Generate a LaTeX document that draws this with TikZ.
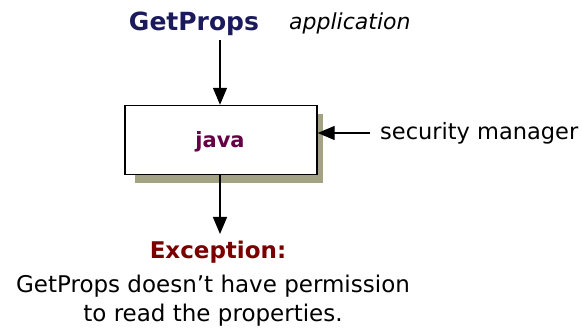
\documentclass[tikz,border=0pt]{standalone}
\usepackage{fontspec}
\setmainfont{DejaVu Sans}
\usetikzlibrary{arrows.meta}
\definecolor{appblue}{HTML}{1A1A5C}
\definecolor{javapurple}{HTML}{660044}
\definecolor{excred}{HTML}{7A0000}
\definecolor{shadowolive}{HTML}{A3A383}
\tikzset{
  x=1pt, y=-1pt,
  flow/.style={line width=1.4pt, -{Triangle[width=14pt,length=17pt]}},
  label/.style={inner sep=0pt, anchor=base},
}
\begin{document}
\begin{tikzpicture}
\useasboundingbox (0,0) rectangle (582,331);
% drop shadow and the java box
\fill[shadowolive] (135,114) rectangle (323,183);
\node[draw, line width=1.4pt, fill=white, minimum width=192pt, minimum height=69pt, inner sep=0pt] (java) at (221,140) {};
\node[label, text=javapurple, font=\bfseries\fontsize{21}{24}\selectfont] (javatxt) at (220,148) {java};
% application on top
\node[label, text=appblue, font=\bfseries\fontsize{25}{28}\selectfont] (app) at (194,31) {GetProps};
\node[label, anchor=base west, font=\itshape\fontsize{22}{26}\selectfont] (apptype) at (289,30) {application};
% security manager on the right
\node[label, anchor=base west, font=\fontsize{22.5}{26}\selectfont] (sec) at (380,140) {security manager};
% exception text below
\node[label, text=excred, font=\bfseries\fontsize{23}{26}\selectfont] (exc) at (218,259) {Exception:};
\node[label, font=\fontsize{23}{26}\selectfont] (msg1) at (213,293) {GetProps doesn't have permission};
\node[label, font=\fontsize{23}{26}\selectfont] (msg2) at (213,322) {to read the properties.};
% connectors
\coordinate (topstart) at (220,40);
\coordinate (secstart) at (370,133);
\coordinate (excend) at (220,234);
\draw[flow] (topstart) -- (java.north -| topstart);
\draw[flow] (secstart) -- (java.east |- secstart);
\draw[flow] (java.south -| excend) -- (excend);
\end{tikzpicture}
\end{document}
